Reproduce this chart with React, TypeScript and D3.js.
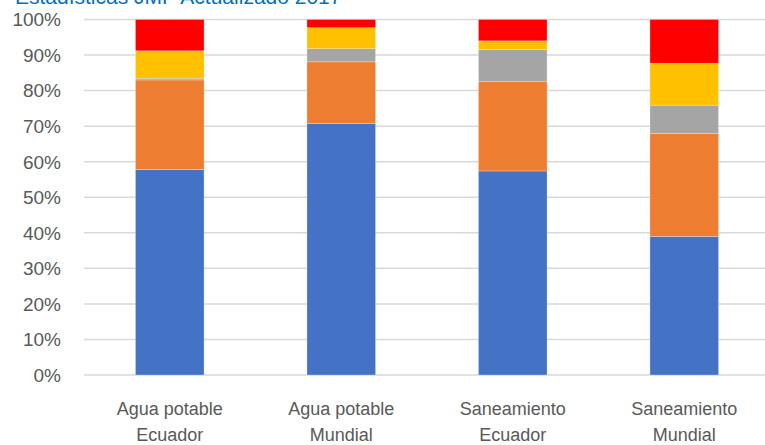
import React from "react";
import * as d3 from "d3";

const categories = [
  ["Agua potable", "Ecuador"],
  ["Agua potable", "Mundial"],
  ["Saneamiento", "Ecuador"],
  ["Saneamiento", "Mundial"],
];
const seriesBlue = [57.8, 70.8, 57.4, 39.0];
const seriesOrange = [25.2, 17.3, 25.1, 28.9];
const seriesGray = [0.5, 3.7, 9.0, 8.0];
const seriesYellow = [7.7, 5.9, 2.5, 11.8];
const seriesRed = [8.8, 2.3, 6.0, 12.3];
const seriesColors = ["#4472C4", "#ED7D31", "#A5A5A5", "#FFC000", "#FF0000"];
const yTicks = [0, 0.1, 0.2, 0.3, 0.4, 0.5, 0.6, 0.7, 0.8, 0.9, 1.0];
const title = "Estadísticas JMP Actualizado 2017";

export default function App() {
  const W = 765, H = 445;
  const left = 84, right = 770, top = 19.5, bottom = 375;
  const keys = ["blue", "orange", "gray", "yellow", "red"];
  const rows = categories.map((c, i) => ({
    cat: c.join(" "),
    blue: seriesBlue[i],
    orange: seriesOrange[i],
    gray: seriesGray[i],
    yellow: seriesYellow[i],
    red: seriesRed[i],
  }));
  const stack = d3.stack<any>().keys(keys).offset(d3.stackOffsetExpand);
  const layers = stack(rows);
  const x = d3.scaleBand().domain(rows.map((r) => r.cat)).range([left, right]).paddingInner(0.6).paddingOuter(0.3);
  const y = d3.scaleLinear().domain([0, 1]).range([bottom, top]);
  const fmt = d3.format(".0%");
  const font = "'Liberation Sans', Arial, sans-serif";

  return (
    <svg width={W} height={H} style={{ position: "absolute", left: 0, top: 0, background: "#fff" }}>
      <text x={15} y={4} fontFamily={font} fontSize={21} fill="#0070C0">{title}</text>
      {yTicks.map((t) => (
        <g key={t}>
          <line x1={left} x2={W} y1={y(t)} y2={y(t)} stroke="#D9D9D9" strokeWidth={1.5} />
          <text x={61} y={y(t)} dy="0.36em" textAnchor="end" fontFamily={font} fontSize={19} fill="#595959">
            {fmt(t)}
          </text>
        </g>
      ))}
      {layers.map((layer, li) => (
        <g key={li} fill={seriesColors[li]}>
          {layer.map((d, i) => (
            <rect
              key={i}
              x={x(rows[i].cat)}
              width={x.bandwidth()}
              y={y(d[1])}
              height={y(d[0]) - y(d[1])}
              stroke="#ffffff"
              strokeOpacity={0.35}
              strokeWidth={0.75}
            />
          ))}
        </g>
      ))}
      {categories.map((c, i) => (
        <text key={i} textAnchor="middle" fontFamily={font} fontSize={18} fill="#595959">
          {c.map((line, j) => (
            <tspan key={j} x={(x(rows[i].cat) as number) + x.bandwidth() / 2} y={415 + j * 26}>
              {line}
            </tspan>
          ))}
        </text>
      ))}
    </svg>
  );
}
